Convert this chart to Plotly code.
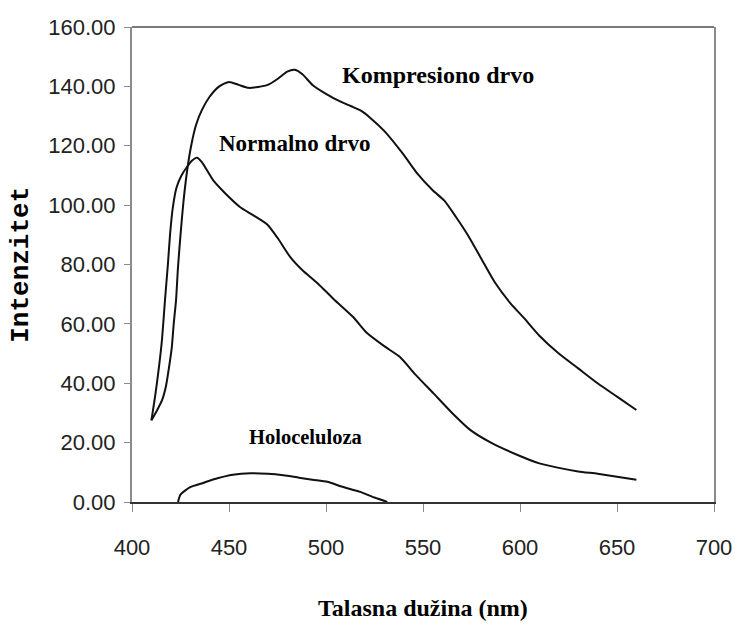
import plotly.graph_objects as go

# Kompresiono drvo
komp_x = [410, 413, 415.5, 417.5, 419, 420.5, 421.5, 422.7, 423.7, 425, 426.5, 428.5, 430.5, 433, 436,
          440, 445, 450, 455, 460, 465, 470, 475, 480, 484, 488, 493, 500, 507, 513, 518, 523,
          530, 540, 547, 555, 561, 567, 573, 580, 587, 595, 602, 610, 620, 630, 640, 650, 660]
komp_y = [27.5, 31, 34.3, 39, 45, 52, 60, 68, 79, 90, 101, 112, 120, 127, 132,
          136.5, 140, 141.5, 140.5, 139.5, 139.8, 140.5, 142.5, 145, 145.6, 144, 140.5, 137.5, 135, 133.3, 131.8, 129.3,
          125, 117, 110.7, 105, 101.5, 96, 90, 82, 74, 67, 62, 56, 50, 45, 40, 35.5, 31]

# Normalno drvo
norm_x = [410, 412, 414, 415.5, 417, 418.5, 419.6, 421, 423, 425.5, 428.5, 431, 433.5, 436, 441.8,
          448, 455.8, 462, 469.7, 475, 481.6, 488, 495.5, 504, 514, 521, 530, 538, 546, 555.4,
          565, 574.5, 585, 600, 610, 620, 630, 640, 650, 660]
norm_y = [27.5, 36, 46, 55, 68, 80, 90, 99, 106, 110, 113, 115, 116, 114.5, 108.4,
          104, 99.3, 96.8, 93.5, 89, 82.5, 78, 73.8, 68.3, 62.3, 57, 52.5, 48.9, 43, 36.6,
          30, 24.2, 20, 15.5, 13, 11.5, 10.3, 9.5, 8.5, 7.5]

# Holoceluloza
holo_x = [423.7, 425, 430, 437, 444, 452, 461, 470, 478, 486, 493, 500.7, 508, 517.7, 525, 531.6]
holo_y = [0, 2.5, 5, 6.5, 8, 9.2, 9.7, 9.5, 9, 8.2, 7.5, 6.8, 5.2, 3.4, 1.5, 0]

x_ticks = [400, 450, 500, 550, 600, 650, 700]
y_ticks = [0, 20, 40, 60, 80, 100, 120, 140, 160]

labels = ["Kompresiono drvo", "Normalno drvo", "Holoceluloza"]

fig = go.Figure()
for xs, ys, name in [(komp_x, komp_y, labels[0]), (norm_x, norm_y, labels[1]), (holo_x, holo_y, labels[2])]:
    fig.add_trace(go.Scatter(x=xs, y=ys, mode="lines", name=name,
                             line=dict(color="#111111", width=2, shape="spline", smoothing=0.6),
                             showlegend=False, hoverinfo="skip"))

serif = dict(family="Liberation Serif", color="#000000", weight="bold")

fig.add_annotation(x=507, y=143.8, xref="x", yref="y", text=labels[0], showarrow=False,
                   xanchor="left", yanchor="middle", font=dict(size=24, **serif))
fig.add_annotation(x=443.8, y=120.7, xref="x", yref="y", text=labels[1], showarrow=False,
                   xanchor="left", yanchor="middle", font=dict(size=23, **serif))
fig.add_annotation(x=459.3, y=22.0, xref="x", yref="y", text=labels[2], showarrow=False,
                   xanchor="left", yanchor="middle", font=dict(size=20.5, **serif))

# axis titles
fig.add_annotation(x=0.5, y=-0.223, xref="paper", yref="paper", text="Talasna dužina (nm)",
                   showarrow=False, xanchor="center", yanchor="middle", font=dict(size=24, **serif))
fig.add_annotation(x=-0.192, y=0.5, xref="paper", yref="paper", text="Intenzitet", textangle=-90,
                   showarrow=False, xanchor="center", yanchor="middle",
                   font=dict(family="Liberation Mono", size=26, color="#000000", weight="bold"))

# top border
fig.add_shape(type="line", xref="paper", yref="paper", x0=0, x1=1, y0=1, y1=1,
              line=dict(color="#7a7a7a", width=2))

fig.update_layout(
    width=735, height=629,
    margin=dict(l=132, r=21, t=27, b=127),
    paper_bgcolor="white", plot_bgcolor="white",
    xaxis=dict(range=[400, 700], tickvals=x_ticks, ticks="outside", ticklen=8, tickcolor="#8a8a8a",
               tickwidth=1, showline=True, linecolor="#333333", linewidth=2, showgrid=False,
               zeroline=False, ticklabelstandoff=17, automargin=False,
               tickfont=dict(family="Liberation Sans", size=22, color="#222222")),
    yaxis=dict(range=[0, 160], tickvals=y_ticks, tickformat=".2f", ticks="outside", ticklen=6,
               tickcolor="#8a8a8a", tickwidth=1, showline=True, linecolor="#8a8a8a", linewidth=2,
               mirror=True, showgrid=False, zeroline=False, ticklabelstandoff=4, automargin=False,
               tickfont=dict(family="Liberation Sans", size=22, color="#222222")),
)

fig.write_html("out.html", config={"displayModeBar": False},
               post_script="document.body.style.margin='0px';document.body.style.overflow='hidden';")
